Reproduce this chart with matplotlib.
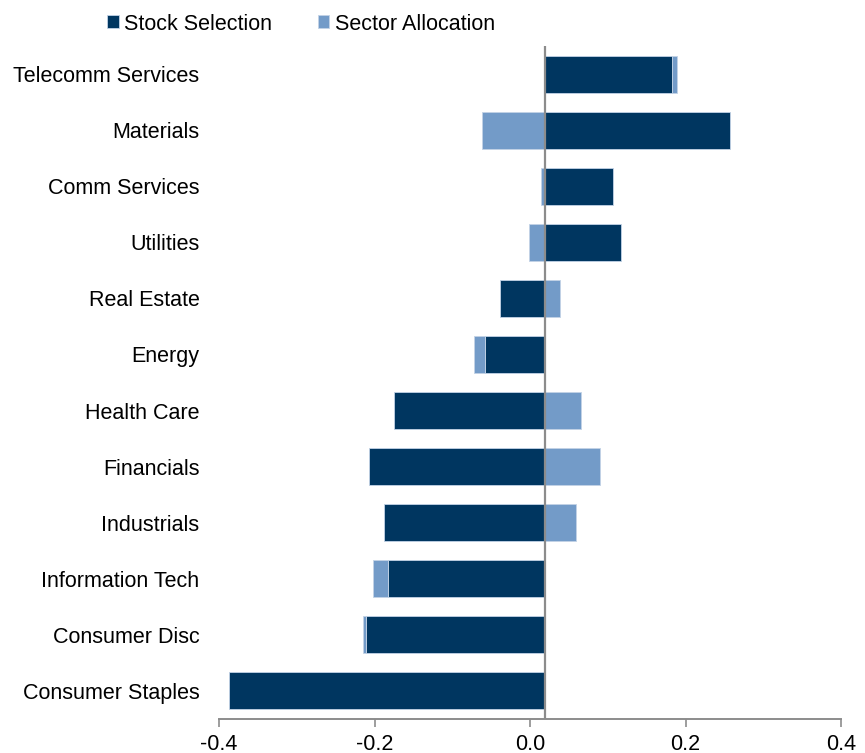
import matplotlib.pyplot as plt
import numpy as np

plt.rcParams['font.family'] = ['Liberation Sans', 'DejaVu Sans']

sectors = ["Telecomm Services", "Materials", "Comm Services", "Utilities",
           "Real Estate", "Energy", "Health Care", "Financials", "Industrials",
           "Information Tech", "Consumer Disc", "Consumer Staples"]
stock_sel = [0.163, 0.238, 0.087, 0.097, -0.058, -0.077,
             -0.195, -0.227, -0.207, -0.202, -0.230, -0.407]
sector_alloc = [0.006, -0.082, -0.006, -0.021, 0.019, -0.015,
                0.046, 0.070, 0.040, -0.020, -0.005, 0.0]
xticks = [-0.4, -0.2, 0.0, 0.2, 0.4]
xtick_labels = ["-0.4", "-0.2", "0.0", "0.2", "0.4"]
axis_cross = 0.0196  # where the value axis crosses in the original

dark = '#003660'
light = '#739bc8'
edge = '#c3d3e6'
grey = '#8c8c8c'

fig = plt.figure(figsize=(8.65, 7.53), dpi=100)
ax = fig.add_axes([0.2532, 0.0452, 0.7191, 0.8937])

y = np.arange(len(sectors))
stock = np.array(stock_sel)
alloc = np.array(sector_alloc)
# stack like excel: same sign continues from the stock bar, opposite sign starts at the axis
same = np.sign(alloc) == np.sign(stock)
alloc_left = axis_cross + np.where(same, stock, 0)

b1 = ax.barh(y, stock, left=axis_cross, height=0.66, color=dark,
             edgecolor=edge, linewidth=0.6, label='Stock Selection')
b2 = ax.barh(y, alloc, left=alloc_left, height=0.66, color=light,
             edgecolor=edge, linewidth=0.6, label='Sector Allocation')

ax.set_xlim(-0.4, 0.4)
ax.set_ylim(len(sectors) - 0.5, -0.5)
ax.axvline(axis_cross, color=grey, lw=1.6, zorder=3)

for s in ['top', 'right', 'left']:
    ax.spines[s].set_visible(False)
ax.spines['bottom'].set_color(grey)
ax.spines['bottom'].set_linewidth(1.4)

ax.set_yticks(y, sectors, fontsize=15.5)
ax.tick_params(axis='y', length=0, pad=14)
ax.set_xticks(xticks, xtick_labels, fontsize=15.5)
ax.tick_params(axis='x', length=5.5, width=1.2, color=grey, pad=5)

fig.legend(handles=[b1, b2], loc='center', bbox_to_anchor=(0.348, 0.968),
           ncol=2, frameon=False, fontsize=15.5, handlelength=0.55,
           handleheight=0.55, handletextpad=0.25, columnspacing=2.1)

fig.savefig('out.png', dpi=100)
